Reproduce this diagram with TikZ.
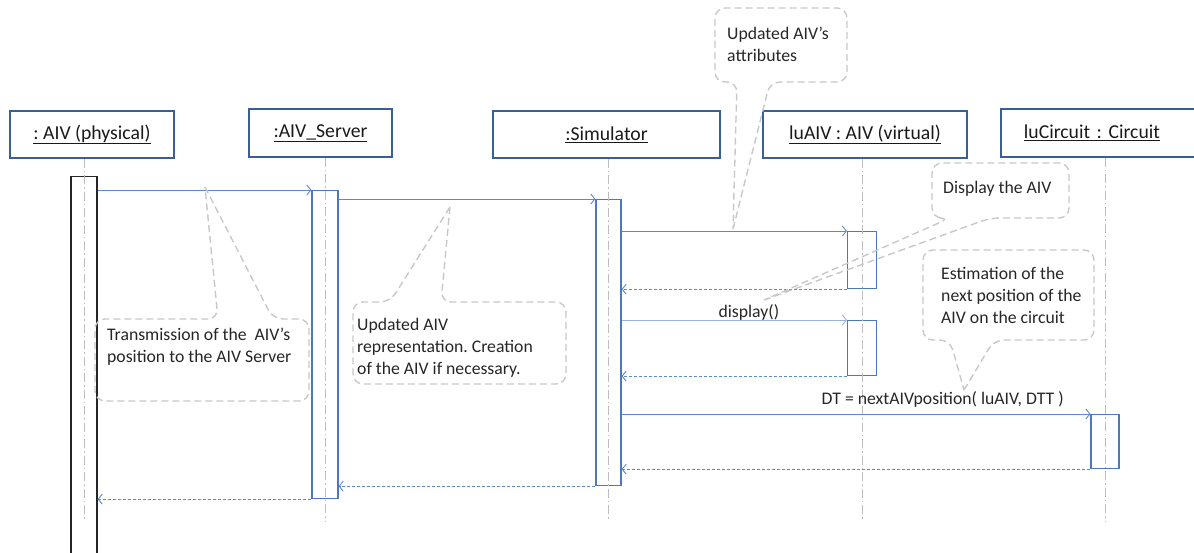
\documentclass[tikz,border=0pt]{standalone}
\usepackage{fontspec}
\setmainfont{Carlito}
\usepackage{xcolor}
\usetikzlibrary{positioning, arrows.meta}
\frenchspacing

\definecolor{hdrblue}{HTML}{3A5F95}
\definecolor{actblue}{HTML}{4F78B8}
\definecolor{msgblue}{HTML}{5E88C8}
\definecolor{lightmsg}{HTML}{98B3DC}
\definecolor{notegray}{HTML}{C8C8C8}
\definecolor{lifegray}{HTML}{BDBDBD}

\tikzset{
	hdr/.style={draw=hdrblue, line width=1.8pt, minimum height=47, inner sep=0, text=black!90, font=\fontsize{19.7}{23}\selectfont},
	act/.style={draw=actblue, line width=1.2pt, minimum width=26, inner sep=0, anchor=north},
	life/.style={lifegray, line width=0.9pt, dash pattern=on 9pt off 3pt on 1.5pt off 3pt},
	msg/.style={msgblue, line width=0.9pt, -{Straight Barb[length=4pt,width=10pt]}},
	ret/.style={msg, dash pattern=on 3pt off 2pt},
	note/.style={notegray, line width=1.4pt, dash pattern=on 7pt off 4pt, rounded corners=10},
	txt/.style={align=left, inner sep=0, anchor=base west, text=black!85, font=\fontsize{17.7}{22}\selectfont},
	lbl/.style={inner sep=0, anchor=base, text=black!85, font=\fontsize{17.7}{22}\selectfont},
}

\begin{document}
\begin{tikzpicture}[x=1pt, y=-1pt]
	\useasboundingbox (0,0) rectangle (1194,552);

	% objects
	\node[hdr, minimum width=164] (h0) at (92,134.5) {\underline{: AIV (physical)}};
	\node[hdr, minimum width=143, minimum height=48] (h1) at (320.5,133) {\underline{:AIV\_Server}};
	\node[hdr, minimum width=227] (h2) at (606.5,134.5) {\underline{:Simulator}};
	\node[hdr, minimum width=204] (h3) at (865,134.5) {\underline{luAIV : AIV (virtual)}};
	\node[hdr, minimum height=48, anchor=west, text width=200, align=left, inner xsep=23] (h4) at (1000,133) {\underline{luCircuit : Circuit}};

	% activations
	\node[act, draw=black!85, minimum height=400] (a0) at (84,176) {};
	\node[act, minimum height=308] (a1) at (325,190) {};
	\node[act, minimum width=25, minimum height=286] (a2) at (608.5,199) {};
	\node[act, minimum width=29, minimum height=57] (a3) at (862,231) {};
	\node[act, minimum width=29, minimum height=55] (a4) at (862,320) {};
	\node[act, minimum width=28, minimum height=54] (a5) at (1105,414) {};
	\coordinate (bot) at (0,521);

	% lifelines
	\draw[life] (a0 |- h0.south) -- (a0 |- bot);
	\draw[life] (a1 |- h1.south) -- (a1 |- bot);
	\draw[life] (a2 |- h2.south) -- (a2 |- bot);
	\draw[life] (a3 |- h3.south) -- (a3 |- bot);
	\draw[life] (a5 |- h4.south) -- (a5 |- bot);

	% messages
	\draw[msg] (a0.east |- a1.north) -- (a1.north west);
	\draw[msg] (a1.east |- a2.north) -- (a2.north west);
	\draw[msg] (a2.east |- a3.north) -- (a3.north west);
	\draw[ret] (a3.south west) -- (a2.east |- a3.south);
	\draw[msg, lightmsg] (a2.east |- a4.north) -- node[lbl, pos=0.565, yshift=3pt] {display()} (a4.north west);
	\draw[ret] (a4.south west) -- (a2.east |- a4.south);
	\draw[msg] (a2.east |- a5.north) -- node[lbl, pos=0.685, yshift=10pt] {DT = nextAIVposition( luAIV, DTT )} (a5.north west);
	\draw[ret] (a5.south west) -- (a2.east |- a5.south);
	\draw[ret] (a2.south west) -- (a1.east |- a2.south);
	\draw[ret] (a1.south west) -- (a0.east |- a1.south);

	% notes (text anchored at the last line)
	\draw[note] (205,187) -- (273,319) -- (309,319) -- (309,401) -- (95,401) -- (95,319) -- (218,319) -- (205,187);
	\node[txt] (c0) at (107,362) {Transmission of the\ \ AIV's\\position to the AIV Server};

	\draw[note] (450,207) -- (441,302) -- (566,302) -- (566,384) -- (353,384) -- (353,302) -- (390,302) -- (450,207);
	\node[txt] (c1) at (357,374) {Updated AIV\\representation. Creation\\of the AIV if necessary.};

	\draw[note] (733,229) -- (770,82) -- (847,82) -- (847,8) -- (715,8) -- (715,82) -- (737,82) -- (733,229);
	\node[txt] (c2) at (727,61) {Updated AIV's\\attributes};

	\draw[note] (764,300) -- (990,218) -- (1069,218) -- (1069,163) -- (932,163) -- (932,218) -- (950,218) -- (764,300);
	\node[txt] (c3) at (943,193) {Display the AIV};

	\draw[note] (964,390) -- (994,340) -- (1094,340) -- (1094,250) -- (923,250) -- (923,340) -- (950,340) -- (964,390);
	\node[txt] (c4) at (941,323) {Estimation of the\\next position of the\\AIV on the circuit};
\end{tikzpicture}
\end{document}
